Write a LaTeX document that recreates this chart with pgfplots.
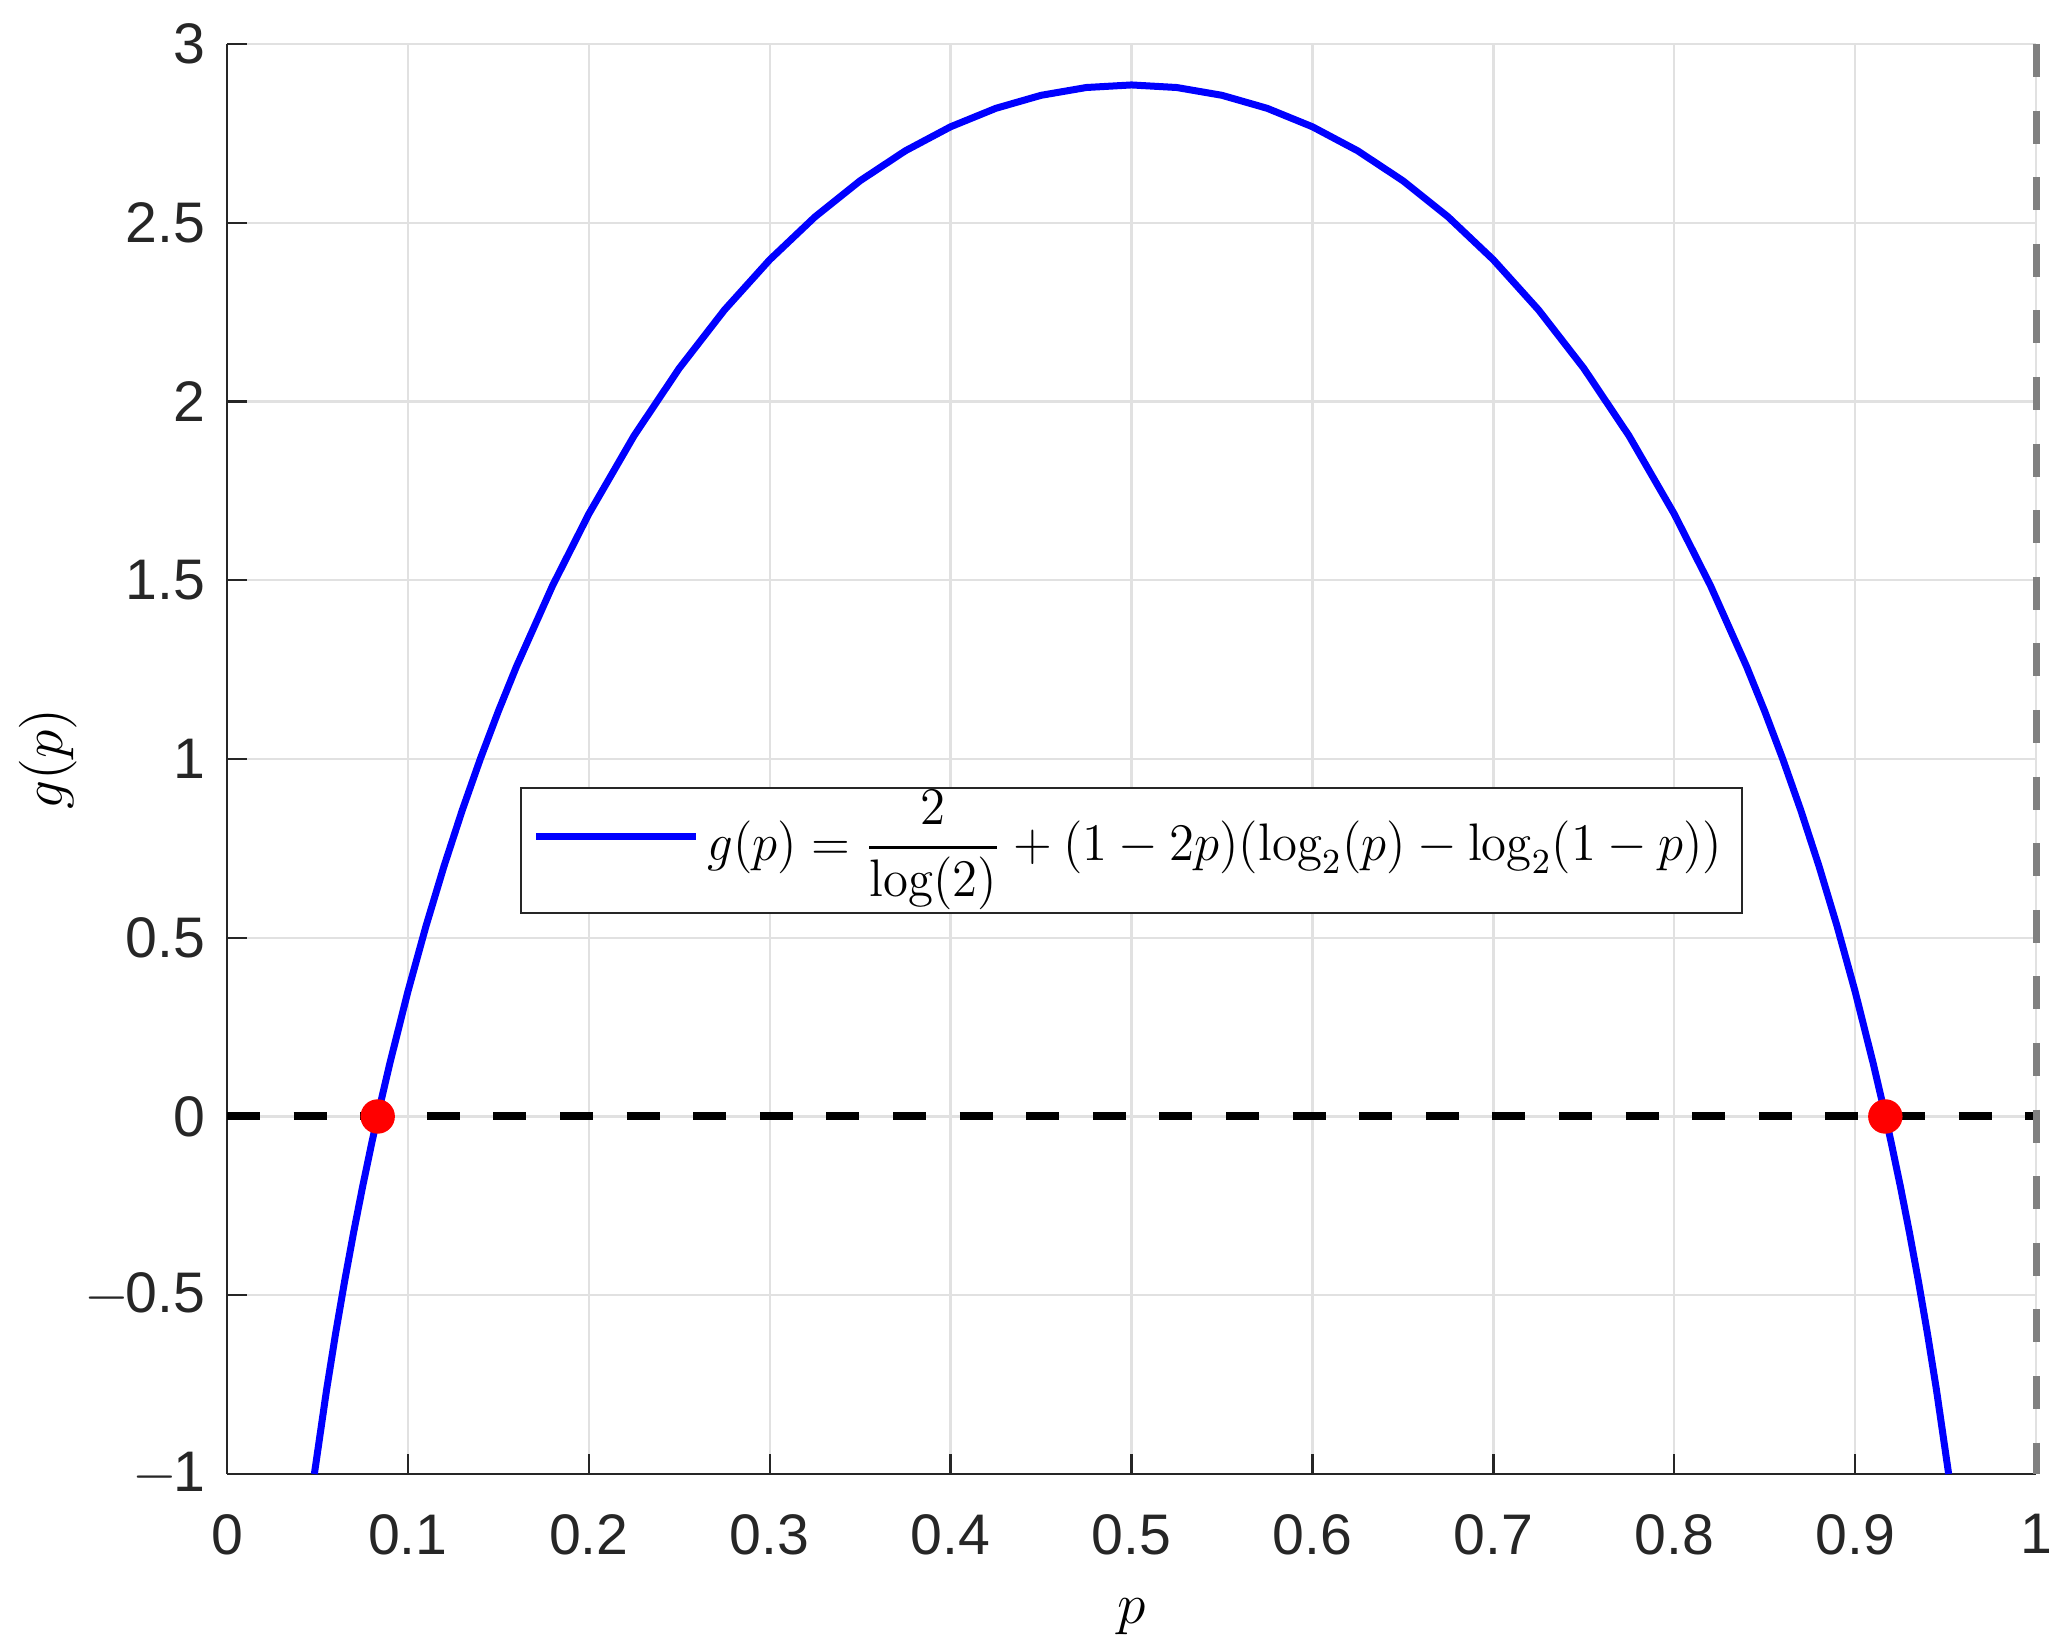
\documentclass[border=0pt]{standalone}
\usepackage{amsmath}
\usepackage{graphicx}
\usepackage{fontspec}
\usepackage{pgfplots}
\pgfplotsset{compat=1.18}
\newfontfamily\tickfont{Liberation Sans}
\definecolor{axgray}{RGB}{38,38,38}
\definecolor{gridgray}{RGB}{225,225,225}
\definecolor{xlinegray}{RGB}{128,128,128}
\newcommand{\mn}{$-$\kern-1pt}

\begin{document}
\begin{tikzpicture}
\begin{axis}[
    name=ax,
    scale only axis,
    width=452.25pt, height=357.5pt,
    xmin=0, xmax=1, ymin=-1, ymax=3,
    clip=false,
    axis lines*=left,
    axis line style={axgray, line width=0.6pt},
    xtick={0,0.1,0.2,0.3,0.4,0.5,0.6,0.7,0.8,0.9,1},
    xticklabels={0,0.1,0.2,0.3,0.4,0.5,0.6,0.7,0.8,0.9,1},
    ytick={-1,-0.5,0,0.5,1,1.5,2,2.5,3},
    yticklabels={\mn1,\mn0.5,0,0.5,1,1.5,2,2.5,3},
    tick align=inside,
    major tick length=5pt,
    tick style={axgray, line width=0.6pt},
    ticklabel style={font=\tickfont\fontsize{14.3}{16}\selectfont, text=axgray},
    xticklabel style={yshift=-6.5pt},
    yticklabel style={xshift=-2pt},
    grid=major,
    major grid style={gridgray, line width=0.6pt},
    xlabel={$p$},
    ylabel={$g(p)$},
    label style={font=\fontsize{14.4}{17}\selectfont},
    xlabel style={at={(axis description cs:0.5,-0.1)}, anchor=center},
    ylabel style={at={(axis description cs:-0.099,0.5)}, anchor=center},
    legend style={at={(0.5,0.436)}, anchor=center, draw=axgray, line width=0.6pt,
        fill=white, font=\fontsize{12}{14}\selectfont, inner xsep=3pt, inner ysep=0.5pt,
        nodes={inner xsep=2pt, inner ysep=0.3pt, text depth=}},
    legend image code/.code={\draw[#1] (0pt,3.4pt) -- (40pt,3.4pt);},
]

% g(p), values
\addplot[blue, line width=1.75pt] coordinates {
    (0.0483,-1.0000) (0.055,-0.7661) (0.06,-0.6079) (0.065,-0.4611)
    (0.07,-0.3240) (0.075,-0.1954) (0.08,-0.0744) (0.085,0.0400)
    (0.09,0.1483) (0.1,0.3495) (0.11,0.5327) (0.12,0.7008)
    (0.13,0.8560) (0.14,0.9998) (0.15,1.1336) (0.16,1.2586)
    (0.18,1.4853) (0.2,1.6854) (0.225,1.9040) (0.25,2.0929)
    (0.275,2.2561) (0.3,2.3964) (0.325,2.5163) (0.35,2.6175)
    (0.375,2.7012) (0.4,2.7684) (0.425,2.8200) (0.45,2.8564)
    (0.475,2.8782) (0.5,2.8854)
    (0.525,2.8782) (0.55,2.8564) (0.575,2.8200) (0.6,2.7684)
    (0.625,2.7012) (0.65,2.6175) (0.675,2.5163) (0.7,2.3964)
    (0.725,2.2561) (0.75,2.0929) (0.775,1.9040) (0.8,1.6854)
    (0.82,1.4853) (0.84,1.2586) (0.85,1.1336) (0.86,0.9998)
    (0.87,0.8560) (0.88,0.7008) (0.89,0.5327) (0.9,0.3495)
    (0.91,0.1483) (0.915,0.0400) (0.92,-0.0744) (0.925,-0.1954)
    (0.93,-0.3240) (0.935,-0.4611) (0.94,-0.6079) (0.945,-0.7661)
    (0.9517,-1.0000)
};
\addlegendentry{\scalebox{1.06}[1.1]{$g(p)=\dfrac{2}{\log(2)}+(1-2p)(\log_2(p)-\log_2(1-p))$}}

% left root
\addplot[forget plot, only marks, mark=*, mark size=4.1pt, color=red] coordinates {(0.0833,0)};
% zero line
\addplot[forget plot, black, line width=2pt, dash pattern=on 8.25pt off 8.4pt] coordinates {(0,0) (1,0)};
% right root
\addplot[forget plot, only marks, mark=*, mark size=4.1pt, color=red] coordinates {(0.9167,0)};
% p = 1
\addplot[forget plot, xlinegray, line width=1.75pt, dash pattern=on 8.25pt off 8.4pt] coordinates {(1,3) (1,-1)};

\end{axis}
\pgfresetboundingbox
\path[use as bounding box] ([shift={(-56.75pt,-44.25pt)}]ax.south west) rectangle ([shift={(8.75pt,11pt)}]ax.north east);
\end{tikzpicture}
\end{document}
